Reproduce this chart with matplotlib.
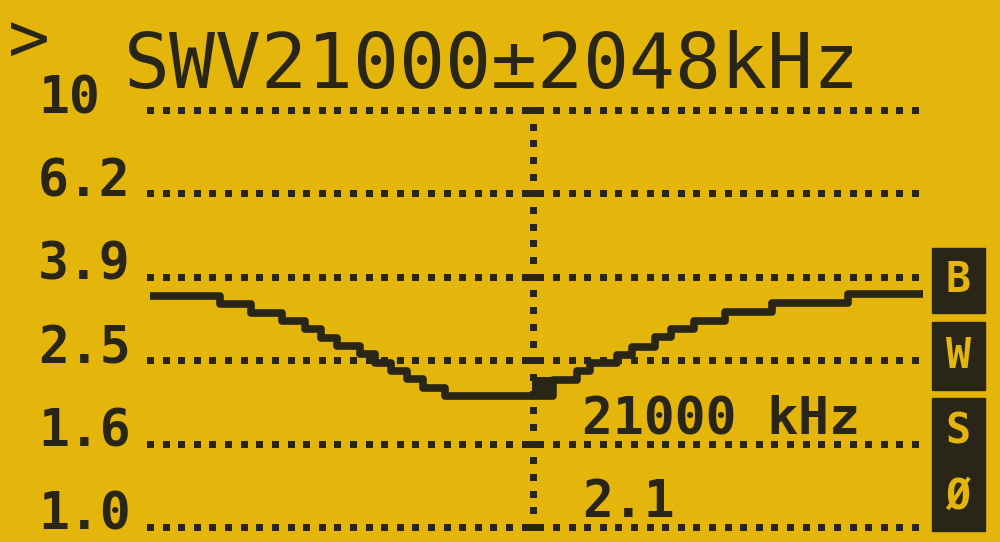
import numpy as np
import matplotlib.pyplot as plt
from matplotlib import transforms
from matplotlib.patches import Rectangle

# sweep: centre 21000 kHz, span +-2048 kHz
center_khz = 21000
span_khz = 2048
grid_labels = ["10", "6.2", "3.9", "2.5", "1.6", "1.0"]
# lcd rows are evenly spaced on a log scale, one decade over five rows
grid_swr = np.logspace(1, 0, len(grid_labels))

freq_khz = [18952, 19327, 19493, 19659, 19782, 19868, 19953, 20076, 20157,
            20242, 20328, 20414, 20531, 21110, 21238, 21308, 21452, 21533,
            21656, 21741, 21864, 22030, 22282, 22689, 23090]
swr = [3.58, 3.43, 3.26, 3.12, 2.98, 2.84, 2.72, 2.60, 2.47,
       2.37, 2.26, 2.15, 2.06, 2.25, 2.37, 2.47, 2.58, 2.70,
       2.85, 2.98, 3.12, 3.28, 3.45, 3.62, 3.62]

cursor_khz = 21000
cursor_swr = 2.1
side_icons = ["B", "W", "S", "Ø"]

BG = '#e4b50a'
INK = '#2a2617'
W, H = 1000, 542
MONO = 'DejaVu Sans Mono'

fig = plt.figure(figsize=(W / 100, H / 100), dpi=100, facecolor=BG)

f_lo, f_hi = center_khz - span_khz, center_khz + span_khz
kpp = (f_hi - f_lo) / 765.0          # kHz per screen pixel
ax = fig.add_axes([140 / W, (H - 537) / H, 795 / W, 437 / H])
ax.set_xlim(f_lo - 10 * kpp, f_hi + 20 * kpp)
ax.set_yscale('log')
ax.set_ylim(10 ** ((527 - 537) / 417), 10 ** ((527 - 100) / 417))
ax.axis('off')

dot = (7 * 72 / 100) ** 2
gx = np.linspace(f_lo, f_hi, 50)
for g in grid_swr:
    ax.scatter(gx, np.full_like(gx, g), marker='s', s=dot, color=INK, lw=0)
    ax.plot([center_khz - 10.5 * kpp, center_khz + 10.5 * kpp], [g, g],
            color=INK, lw=5, solid_capstyle='butt')

# vertical dotted marker line at the centre frequency
for a, b in zip(grid_swr[:-1], grid_swr[1:]):
    vy = np.geomspace(a, b, 6)[1:-1]
    ax.scatter(np.full_like(vy, center_khz), vy, marker='s', s=dot, color=INK, lw=0)

ax.plot(freq_khz, swr, drawstyle='steps-post', color=INK, lw=5.5,
        solid_capstyle='butt', clip_on=False)
cur_tr = transforms.offset_copy(ax.transData, fig, x=9, y=6, units='dots')
ax.plot(cursor_khz, cursor_swr, marker='s', ms=15, color=INK, mew=0,
        transform=cur_tr, clip_on=False)

# y labels sit on their grid rows
lab_tr = transforms.offset_copy(
    transforms.blended_transform_factory(fig.transFigure, ax.transData),
    fig, x=0, y=-3, units='dots')
for g, lab in zip(grid_swr, grid_labels):
    fig.text(38 / W, g, lab, transform=lab_tr, family=MONO, fontsize=37,
             fontweight='bold', color=INK, va='baseline')

fig.text(8 / W, 1 - 62 / H, ">", family=MONO, fontsize=50, color=INK, va='baseline')
fig.text(124 / W, 1 - 88 / H, f"SWV{center_khz}±{span_khz}kHz", family=MONO,
         fontsize=55, color=INK, va='baseline')
fig.text(582 / W, 1 - 433 / H, f"{cursor_khz} kHz", family=MONO, fontsize=37,
         fontweight='bold', color=INK, va='baseline')
fig.text(582 / W, 1 - 517 / H, f"{cursor_swr}", family=MONO, fontsize=37,
         fontweight='bold', color=INK, va='baseline')

# inverted icon boxes on the right
boxes = [(248, 313), (322, 390), (398, 531)]
for top, bot in boxes:
    fig.patches.append(Rectangle((932 / W, 1 - bot / H), 53 / W, (bot - top) / H,
                                 transform=fig.transFigure, color=INK))
icon_y = [280, 356, 432, 497]
for yy, ch in zip(icon_y, side_icons):
    fig.text(958 / W, 1 - yy / H, ch, family=MONO, fontsize=30, fontweight='bold',
             color=BG, ha='center', va='center')

fig.savefig('out.png', dpi=100, facecolor=BG)
